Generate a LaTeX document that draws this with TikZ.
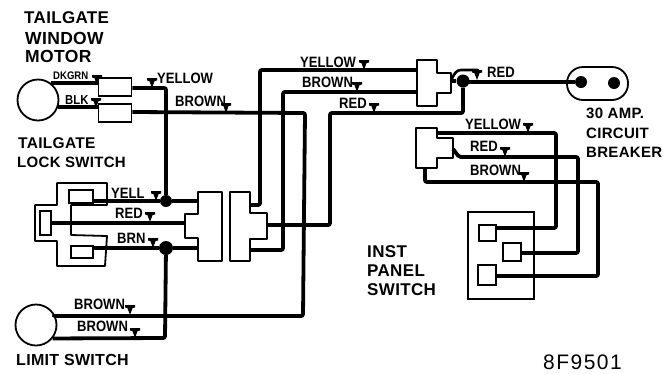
\documentclass[tikz,border=0pt]{standalone}
\usepackage{fontspec}
\setmainfont{Liberation Sans}
\newfontfamily\codefont[LetterSpace=7]{Liberation Sans}
\newfontfamily\headfont[LetterSpace=2]{Liberation Sans Bold}
\newfontfamily\labfont[FakeStretch=0.87]{Liberation Sans Bold}
\begin{document}
\begin{tikzpicture}[x=1pt,y=-1pt,
	wire/.style = {line width=3.8pt,rounded corners=2pt},
	shell/.style = {line width=1.8pt,line join=round},
	term/.style = {draw,line width=1.8pt,inner sep=0pt},
	round/.style = {draw,circle,line width=1.8pt,inner sep=0pt,minimum size=41pt},
	dot/.style = {fill,circle,inner sep=0pt},
	head/.style = {anchor=west,inner sep=0pt,font=\headfont\fontsize{16}{16}\selectfont},
	bighead/.style = {head,font=\headfont\fontsize{17.5}{17.5}\selectfont},
	smallhead/.style = {head,font=\headfont\fontsize{15}{15}\selectfont},
	lab/.style = {anchor=west,inner sep=0pt,font=\labfont\fontsize{15}{15}\selectfont},
	tagmark/.pic = {\fill (-5,0) -- (5,0) -- (5,2.5) -- (2.6,3) -- (0,10) -- (-2.6,3) -- (-5,2.5) -- cycle;}]
	\useasboundingbox (0,0) rectangle (672,373);
	% parts
	\node[round] (motor) at (38,100) {};
	\node[round] (limit) at (36,325) {};
	\node[term,minimum width=33pt,minimum height=18pt] (motorA) at (115,87) {};
	\node[term,minimum width=33pt,minimum height=18pt] (motorB) at (115,113) {};
	\node[term,minimum width=11pt,minimum height=24pt] (lockL) at (45.5,223) {};
	\node[term,minimum width=24pt,minimum height=13pt] (lockT) at (81,196.5) {};
	\node[term,minimum width=22pt,minimum height=12pt] (lockB) at (82,252) {};
	\node[term,minimum width=66pt,minimum height=87pt] (panel) at (501,255.5) {};
	\node[term,minimum width=17pt,minimum height=16pt] (panelA) at (487.5,233) {};
	\node[term,minimum width=18pt,minimum height=18pt] (panelB) at (512,252) {};
	\node[term,minimum width=18pt,minimum height=20pt] (panelC) at (487,275) {};
	\node[draw,line width=1.8pt,rounded corners=16pt,minimum width=61pt,minimum height=33pt,inner sep=0pt] (breaker) at (597.5,83.5) {};
	\node[dot,minimum size=12pt] (breakerA) at (581,82) {};
	\node[dot,minimum size=12pt] (breakerB) at (614,83) {};
	\node[dot,minimum size=12pt] (joinY) at (166,201) {};
	\node[dot,minimum size=14pt] (joinB) at (166,248) {};
	\node[dot,minimum size=13pt] (joinR) at (463,81) {};
	% connector shells
	\draw[shell] (57,183) -- (107,183) -- (107,205) -- (71,205) -- (71,235) -- (107,236) -- (105,266) -- (57,266) -- (57,241) -- (35,241) -- (35,205) -- (57,205) -- cycle;
	\draw[shell] (198,192) -- (222,192) -- (222,261) -- (198,261) -- (198,238) -- (185,238) -- (185,214) -- (198,214) -- cycle;
	\draw[shell] (230,192) -- (250,192) -- (250,213) -- (267,213) -- (267,239) -- (250,239) -- (250,261) -- (230,261) -- cycle;
	\draw[shell] (417,60) -- (437,60) -- (437,73) -- (451,73) -- (451,93) -- (437,93) -- (437,106) -- (417,106) -- cycle;
	\draw[shell] (416,128) -- (437,128) -- (437,138) -- (453,138) -- (453,158) -- (437,158) -- (437,168) -- (416,168) -- cycle;
	\coordinate (plugY) at (198,201);
	\coordinate (plugR) at (185,223);
	\coordinate (plugB) at (198,248);
	\coordinate (sockY) at (250,205);
	\coordinate (sockR) at (267,225);
	\coordinate (sockB) at (250,250);
	\coordinate (topY) at (417,70);
	\coordinate (topB) at (417,92);
	\coordinate (topR) at (451,81);
	\coordinate (lowY) at (437,133);
	\coordinate (lowR) at (453,149);
	\coordinate (lowB) at (425,168);
	% wires
	\draw[wire] (motor.51) -- (motorA.west |- motor.51);
	\draw[wire] (motor.-20) -- (motorB.west |- motor.-20);
	\draw[wire] (motorA.east |- 0,88) -- (166,88) -- (joinY);
	\draw[wire] (motorB.east |- 0,112) -- (305,113) -- (303,316) -- (limit.36 |- 0,316) -- (limit.30);
	\draw[wire] (limit.-39) -- (165,338) -- (joinB);
	\draw[wire] (lockT.east |- joinY) -- (joinY) -- (plugY);
	\draw[wire] (lockL.east) -- (plugR);
	\draw[wire] (lockB.east |- joinB) -- (joinB) -- (plugB);
	\draw[wire] (sockY) -- (260,205) -- (260,70) -- (topY);
	\draw[wire] (sockB) -- (283,250) -- (283,92) -- (topB);
	\draw[wire] (sockR) -- (330,225) -- (330,113) -- (463,113) -- (joinR);
	\draw[wire] (topR) -- (joinR);
	\draw[wire] (joinR |- breakerA) -- (breakerA);
	\draw[line width=2.6pt,line cap=round] (topR) .. controls (454,73) and (457,70) .. (461,70) -- (478,70);
	\draw[wire] (lowY) -- (556,133) -- (556,228) -- (panelA.east |- 0,228);
	\draw[wire] (lowR) -- (459,157) -- (578,157) -- (578,253) -- (panelB.east |- 0,253);
	\draw[wire] (lowB) -- (425,182) -- (598,182) -- (598,276) -- (panelC.east |- 0,276);
	% wire marks
	\foreach \x/\y in {97/75,96/98,152/78,226/103,364/60,357/82,374/103,477/70,528/123,505/147,524/172,156/191,150/212,153/238,130/305,135/328}
		\pic at (\x,\y) {tagmark};
	% part names
	\node[head,font=\headfont\fontsize{17}{17}\selectfont] (tailgate) at (24,18) {TAILGATE};
	\node[bighead] (window) at (25,38) {WINDOW};
	\node[bighead] (motorname) at (25,56) {MOTOR};
	\node[head,font=\headfont\fontsize{15.5}{15.5}\selectfont] (tailgateB) at (18,143) {TAILGATE};
	\node[smallhead] (lockname) at (17,162) {LOCK SWITCH};
	\node[head] (limitname) at (16,360) {LIMIT SWITCH};
	\node[smallhead] (ampname) at (586,113) {30 AMP.};
	\node[smallhead] (circuitname) at (586,133) {CIRCUIT};
	\node[smallhead] (breakername) at (586,152) {BREAKER};
	\node[head,font=\headfont\fontsize{17}{17}\selectfont] (instname) at (367,252) {INST};
	\node[head,font=\headfont\fontsize{17}{17}\selectfont] (panelname) at (367,271) {PANEL};
	\node[head,font=\headfont\fontsize{17}{17}\selectfont] (switchname) at (367,290) {SWITCH};
	\node[anchor=west,inner sep=0pt,font=\codefont\fontsize{21}{21}\selectfont] (code) at (543,362) {8F9501};
	% wire names
	\node[lab,font=\labfont\fontsize{11}{11}\selectfont] (dkgrn) at (53,76) {DKGRN};
	\node[lab,font=\labfont\fontsize{13}{13}\selectfont] (blk) at (65,100) {BLK};
	\node[lab] (yellowA) at (157,78) {YELLOW};
	\node[lab] (brownA) at (175,101) {BROWN};
	\node[lab] (yellowB) at (300,62) {YELLOW};
	\node[lab] (brownB) at (302,82) {BROWN};
	\node[lab] (redB) at (339,103) {RED};
	\node[lab] (redC) at (487,72) {RED};
	\node[lab] (yellowC) at (465,124) {YELLOW};
	\node[lab] (redD) at (470,146) {RED};
	\node[lab] (brownD) at (470,170) {BROWN};
	\node[lab] (yell) at (111,193) {YELL};
	\node[lab] (redE) at (115,213) {RED};
	\node[lab] (brn) at (117,238) {BRN};
	\node[lab] (brownE) at (74,304) {BROWN};
	\node[lab] (brownF) at (77,326) {BROWN};
\end{tikzpicture}
\end{document}
